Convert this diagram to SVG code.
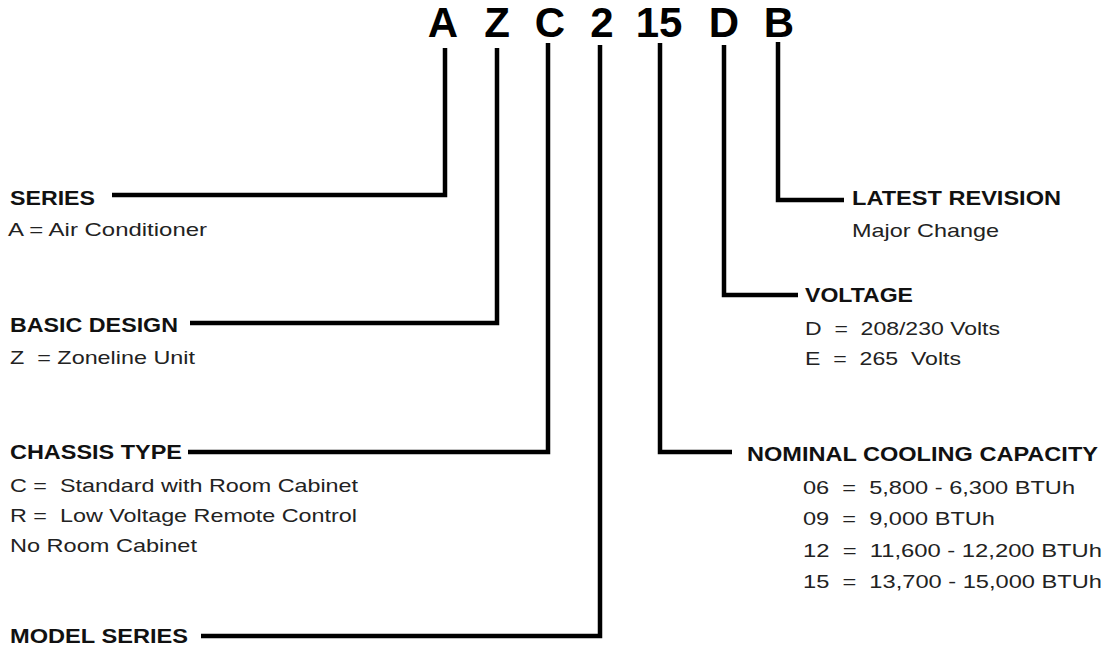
<svg xmlns="http://www.w3.org/2000/svg" width="1107" height="649" viewBox="0 0 1107 649">
<style>
.code{font-family:"Liberation Sans",Arial,sans-serif;font-weight:bold;font-size:42px;fill:#000;text-anchor:middle}
.h{font-family:"Liberation Sans",Arial,sans-serif;font-weight:bold;font-size:20px;fill:#111}
.t{font-family:"Liberation Sans",Arial,sans-serif;font-size:19px;fill:#222;white-space:pre}
.c{fill:none;stroke:#000;stroke-width:4.5;stroke-linejoin:miter;stroke-linecap:butt}
</style>
<rect width="1107" height="649" fill="#fff"/>
<g id="code">
<text class="code" x="443" y="37">A</text>
<text class="code" x="497" y="37">Z</text>
<text class="code" x="550" y="37">C</text>
<text class="code" x="602" y="37">2</text>
<text class="code" x="659" y="37">15</text>
<text class="code" x="724" y="37">D</text>
<text class="code" x="779" y="37">B</text>
</g>
<g id="connectors">
<path class="c" d="M445 48V195H112"/>
<path class="c" d="M497 48V323H190"/>
<path class="c" d="M548 43V452H188"/>
<path class="c" d="M600 45V636H201"/>
<path class="c" d="M660 43V452H732"/>
<path class="c" d="M724 45V295H798"/>
<path class="c" d="M778 42V200H844"/>
</g>
<g id="series">
<text class="h" x="10" y="205" textLength="85" lengthAdjust="spacingAndGlyphs">SERIES</text>
<text class="t" x="8" y="236" textLength="199" lengthAdjust="spacingAndGlyphs">A = Air Conditioner</text>
</g>
<g id="basic-design">
<text class="h" x="10" y="332" textLength="168" lengthAdjust="spacingAndGlyphs">BASIC DESIGN</text>
<text class="t" x="10" y="364" textLength="185" lengthAdjust="spacingAndGlyphs">Z  = Zoneline Unit</text>
</g>
<g id="chassis-type">
<text class="h" x="10" y="459" textLength="172" lengthAdjust="spacingAndGlyphs">CHASSIS TYPE</text>
<text class="t" x="10" y="492" textLength="348" lengthAdjust="spacingAndGlyphs">C =  Standard with Room Cabinet</text>
<text class="t" x="10" y="522" textLength="347" lengthAdjust="spacingAndGlyphs">R =  Low Voltage Remote Control</text>
<text class="t" x="10" y="552" textLength="187" lengthAdjust="spacingAndGlyphs">No Room Cabinet</text>
</g>
<g id="model-series">
<text class="h" x="10" y="643" textLength="178" lengthAdjust="spacingAndGlyphs">MODEL SERIES</text>
</g>
<g id="latest-revision">
<text class="h" x="852" y="205" textLength="209" lengthAdjust="spacingAndGlyphs">LATEST REVISION</text>
<text class="t" x="852" y="237" textLength="147" lengthAdjust="spacingAndGlyphs">Major Change</text>
</g>
<g id="voltage">
<text class="h" x="805" y="302" textLength="108" lengthAdjust="spacingAndGlyphs">VOLTAGE</text>
<text class="t" x="805" y="335" textLength="195" lengthAdjust="spacingAndGlyphs">D  =  208/230 Volts</text>
<text class="t" x="805" y="365" textLength="156" lengthAdjust="spacingAndGlyphs">E  =  265  Volts</text>
</g>
<g id="cooling-capacity">
<text class="h" x="747" y="461" textLength="351" lengthAdjust="spacingAndGlyphs">NOMINAL COOLING CAPACITY</text>
<text class="t" x="803" y="494" textLength="272" lengthAdjust="spacingAndGlyphs">06  =  5,800 - 6,300 BTUh</text>
<text class="t" x="803" y="525" textLength="192" lengthAdjust="spacingAndGlyphs">09  =  9,000 BTUh</text>
<text class="t" x="803" y="557" textLength="299" lengthAdjust="spacingAndGlyphs">12  =  11,600 - 12,200 BTUh</text>
<text class="t" x="803" y="588" textLength="299" lengthAdjust="spacingAndGlyphs">15  =  13,700 - 15,000 BTUh</text>
</g>
</svg>
